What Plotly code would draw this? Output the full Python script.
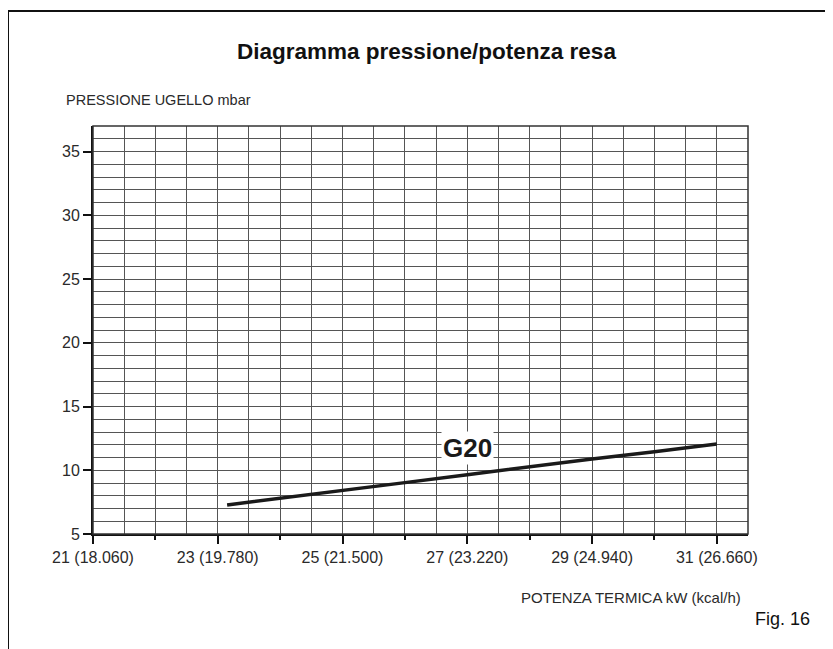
import plotly.graph_objects as go

# Data
potenza_kw = [23.15, 24, 25, 26, 27, 28, 29, 30, 31]
pressione_mbar = [7.28, 7.82, 8.42, 9.03, 9.65, 10.28, 10.88, 11.46, 12.06]
serie_label = "G20"

x_tickvals = [21, 23, 25, 27, 29, 31]
x_ticktext = ["21 (18.060)", "23 (19.780)", "25 (21.500)",
              "27 (23.220)", "29 (24.940)", "31 (26.660)"]
y_tickvals = [5, 10, 15, 20, 25, 30, 35]

title = "Diagramma pressione/potenza resa"
y_title = "PRESSIONE UGELLO mbar"
x_title = "POTENZA TERMICA kW (kcal/h)"
fig_label = "Fig. 16"

FONT = "Liberation Sans, Arial, sans-serif"
TXT = "#2a2a2a"
GRID = "#555555"

# plot-area geometry in figure pixels (page offset of 8px removed)
L, T, W, H = 85, 118, 655, 408
def px(xp):
    return (xp - 8 - L) / W
def py(yp):
    return (T + H - (yp - 8)) / H

fig = go.Figure()
fig.add_trace(go.Scatter(x=potenza_kw, y=pressione_mbar, mode="lines",
                         line=dict(color="#1a1a1a", width=3.5),
                         showlegend=False, hoverinfo="skip"))
# invisible trace to anchor the grid overlay axis
fig.add_trace(go.Scatter(x=[potenza_kw[0]], y=[pressione_mbar[0]], xaxis="x2",
                         mode="markers", marker=dict(opacity=0),
                         showlegend=False, hoverinfo="skip"))

fig.update_layout(
    width=833, height=649,
    margin=dict(l=L, r=833 - L - W, t=T, b=649 - T - H),
    paper_bgcolor="white", plot_bgcolor="white",
    font=dict(family=FONT, color=TXT, size=16),
    xaxis=dict(range=[21, 31.5], tickmode="array", tickvals=x_tickvals,
               ticktext=x_ticktext, ticks="outside", ticklen=8, tickwidth=1.5,
               tickcolor="#111", showgrid=False, zeroline=False,
               showline=True, linecolor="#111", linewidth=2,
               tickfont=dict(size=16, color=TXT, family=FONT),
               minor=dict(tickmode="linear", tick0=21, dtick=1, ticks="outside",
                          ticklen=4, tickwidth=1.5, tickcolor="#111",
                          showgrid=False)),
    xaxis2=dict(range=[21, 31.5], overlaying="x", side="bottom",
                tickmode="linear", tick0=21, dtick=0.5, showgrid=True,
                gridcolor=GRID, gridwidth=1, showticklabels=False, ticks="",
                zeroline=False, showline=False),
    yaxis=dict(range=[5, 37], tickmode="array", tickvals=y_tickvals,
               ticks="outside", ticklen=8, tickwidth=1.5, tickcolor="#111",
               showgrid=True, gridcolor=GRID, gridwidth=1, zeroline=False,
               showline=True, linecolor="#111", linewidth=2,
               tickfont=dict(size=16, color=TXT, family=FONT),
               minor=dict(tickmode="linear", tick0=5, dtick=1, showgrid=True,
                          gridcolor=GRID, gridwidth=1, ticks="")),
)

shapes = [
    # plot frame
    dict(type="rect", xref="x domain", yref="y domain", x0=0, x1=1, y0=0, y1=1,
         line=dict(color="#333", width=1.5), layer="above"),
    # outer page border (left and top only)
    dict(type="line", xref="paper", yref="paper",
         x0=px(8), x1=px(8), y0=py(11), y1=py(670),
         line=dict(color="#111", width=2)),
    dict(type="line", xref="paper", yref="paper",
         x0=px(8), x1=px(850), y0=py(11), y1=py(11),
         line=dict(color="#111", width=2)),
]
fig.update_layout(shapes=shapes)

annotations = [
    dict(text="<b>" + title + "</b>", xref="paper", yref="paper",
         x=px(426), y=py(52), xanchor="center", yanchor="middle",
         showarrow=False, font=dict(size=22.5, color="#111", family=FONT)),
    dict(text=y_title, xref="paper", yref="paper",
         x=px(64), y=py(100), xanchor="left", yanchor="middle",
         showarrow=False, font=dict(size=14.5, color=TXT, family=FONT)),
    dict(text=x_title, xref="paper", yref="paper",
         x=px(743), y=py(597), xanchor="right", yanchor="middle",
         showarrow=False, font=dict(size=15, color=TXT, family=FONT)),
    dict(text=fig_label, xref="paper", yref="paper",
         x=px(812), y=py(619), xanchor="right", yanchor="middle",
         showarrow=False, font=dict(size=18, color="#111", family=FONT)),
    dict(text="<b>" + serie_label + "</b>", xref="x", yref="y",
         x=27.0, y=11.75, xanchor="center", yanchor="middle", showarrow=False,
         bgcolor="white", borderpad=1,
         font=dict(size=26, color="#1a1a1a", family=FONT)),
]
fig.update_layout(annotations=annotations)

fig.write_html("out.html")
